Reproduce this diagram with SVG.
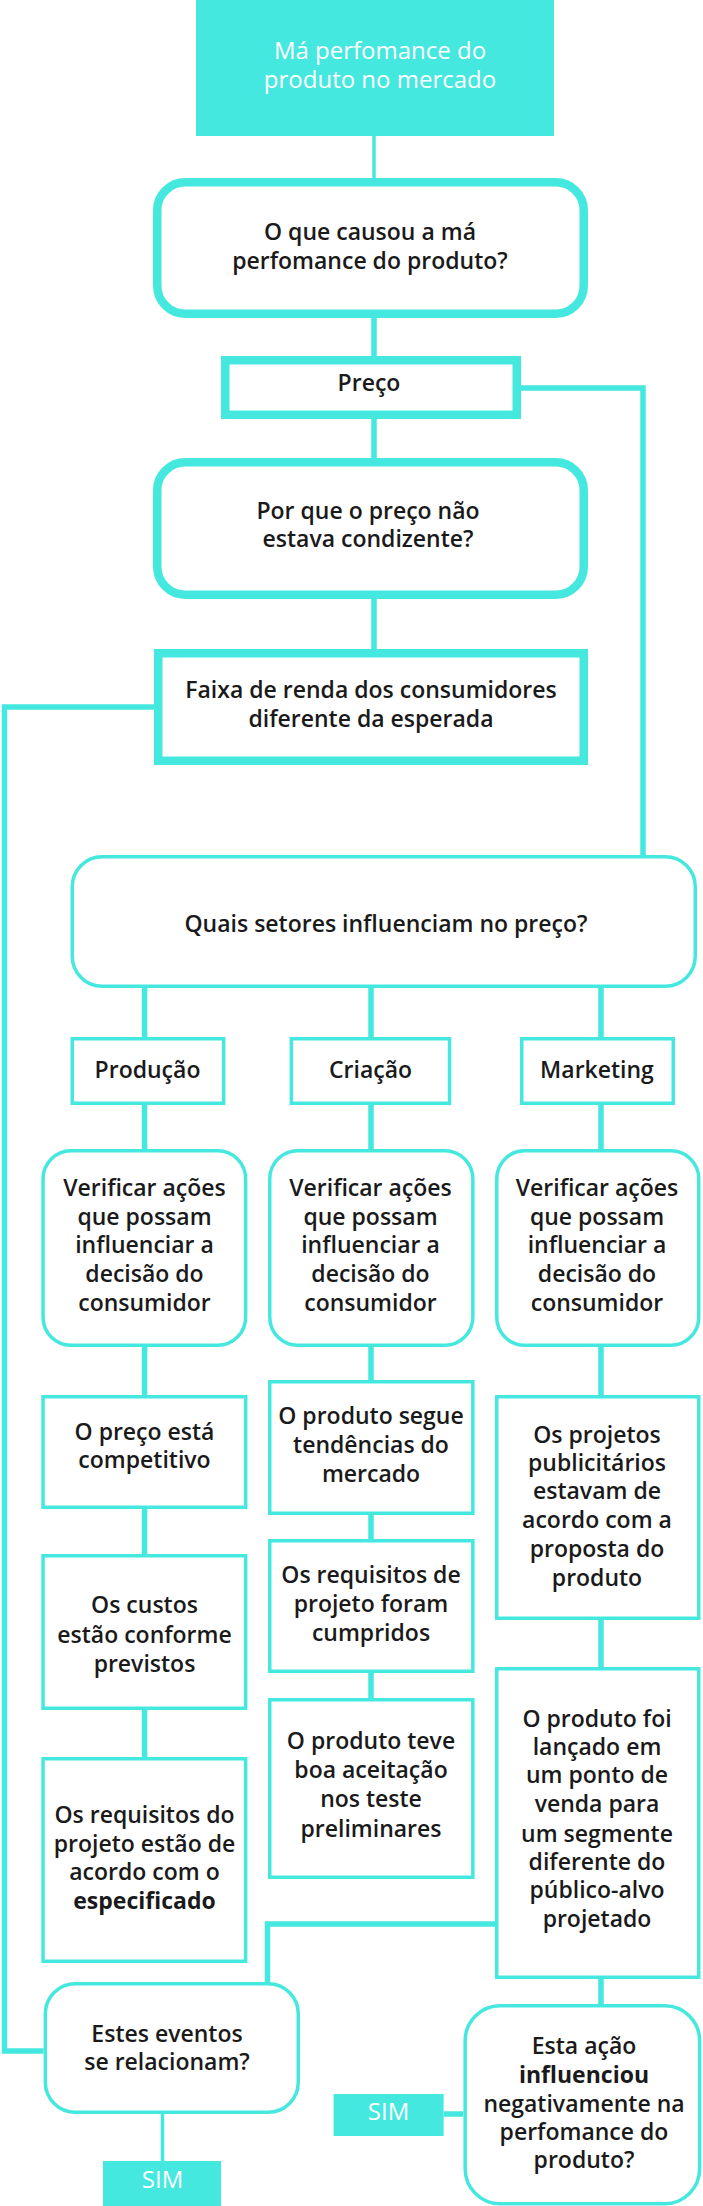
<svg xmlns="http://www.w3.org/2000/svg" width="703" height="2206" viewBox="0 0 703 2206">
<style>
.thick{fill:#fff;stroke:#45E8DF;stroke-width:8.5}
.thin{fill:#fff;stroke:#45E8DF;stroke-width:3.5}
.solid{fill:#45E8DF}
.conn{fill:none;stroke:#45E8DF;stroke-width:5.5}
.connthin{fill:none;stroke:#45E8DF;stroke-width:3.5}
text{font-family:"Open Sans","Liberation Sans",sans-serif;font-size:23px;font-weight:600;fill:#1a1a1a;text-anchor:middle}
text.w{fill:#fff;font-weight:400;font-size:24px}
.b{font-weight:700}
</style>
<rect width="703" height="2206" fill="#fff"/>
<g id="connectors">
<path class="connthin" d="M374 136V178"/>
<path class="conn" d="M374 318V356"/>
<path class="conn" d="M374 419V458"/>
<path class="conn" d="M374 599V649"/>
<path class="conn" d="M521 388H643V856"/>
<path class="conn" d="M154 707H4.5V2051H43.6"/>
<path class="conn" d="M144.6 988V1037M371 988V1037M601 988V1037"/>
<path class="conn" d="M144.6 1105V1149M371 1105V1149M601 1105V1149"/>
<path class="conn" d="M144.6 1347V1395M144.6 1509V1554M144.6 1710V1757"/>
<path class="conn" d="M371 1347V1380M371 1515V1539M371 1673V1698"/>
<path class="conn" d="M601 1347V1395M601 1620V1667M601 1979V2004"/>
<path class="conn" d="M495 1924H267.5V1982"/>
<path class="connthin" d="M162.5 2114V2161"/>
<path class="conn" d="M443.6 2114H463.4"/>
</g>
<g id="n-top">
<rect class="solid" x="196" y="0" width="358" height="136"/>
<text class="w" x="380" y="59">Má perfomance do</text>
<text class="w" x="380" y="88">produto no mercado</text>
</g>
<g id="n-causa">
<rect class="thick" x="157.25" y="182.25" width="426.5" height="131.5" rx="28"/>
<text x="370" y="240">O que causou a má</text>
<text x="370" y="269">perfomance do produto?</text>
</g>
<g id="n-preco">
<rect class="thick" x="225.25" y="360.25" width="291.5" height="54.5"/>
<text x="369" y="391">Preço</text>
</g>
<g id="n-porque">
<rect class="thick" x="157.25" y="462.25" width="426.5" height="132.5" rx="28"/>
<text x="368" y="519">Por que o preço não</text>
<text x="368" y="547">estava condizente?</text>
</g>
<g id="n-faixa">
<rect class="thick" x="158.25" y="653.25" width="425.5" height="107.5"/>
<text x="371" y="698">Faixa de renda dos consumidores</text>
<text x="371" y="727">diferente da esperada</text>
</g>
<g id="n-quais">
<rect class="thin" x="72.25" y="856.75" width="623" height="129.5" rx="30"/>
<text x="386" y="932">Quais setores influenciam no preço?</text>
</g>
<g id="n-producao">
<rect class="thin" x="72.25" y="1038.75" width="151.4" height="64.5"/>
<text x="147.5" y="1078">Produção</text>
</g>
<g id="n-criacao">
<rect class="thin" x="291.35" y="1038.75" width="158.2" height="64.5"/>
<text x="370.5" y="1078">Criação</text>
</g>
<g id="n-marketing">
<rect class="thin" x="521.75" y="1038.75" width="151.5" height="64.5"/>
<text x="597" y="1078">Marketing</text>
</g>
<g id="n-verif1">
<rect class="thin" x="43.05" y="1150.75" width="202.6" height="194.5" rx="28"/>
<text x="144.5" y="1196">Verificar ações</text>
<text x="144.5" y="1225">que possam</text>
<text x="144.5" y="1253">influenciar a</text>
<text x="144.5" y="1282">decisão do</text>
<text x="144.5" y="1311">consumidor</text>
</g>
<g id="n-verif2">
<rect class="thin" x="269.75" y="1150.75" width="203.1" height="194.5" rx="28"/>
<text x="370.5" y="1196">Verificar ações</text>
<text x="370.5" y="1225">que possam</text>
<text x="370.5" y="1253">influenciar a</text>
<text x="370.5" y="1282">decisão do</text>
<text x="370.5" y="1311">consumidor</text>
</g>
<g id="n-verif3">
<rect class="thin" x="496.75" y="1150.75" width="202" height="194.5" rx="28"/>
<text x="597" y="1196">Verificar ações</text>
<text x="597" y="1225">que possam</text>
<text x="597" y="1253">influenciar a</text>
<text x="597" y="1282">decisão do</text>
<text x="597" y="1311">consumidor</text>
</g>
<g id="n-p1">
<rect class="thin" x="43.05" y="1396.75" width="202.6" height="110.5"/>
<text x="144.5" y="1440">O preço está</text>
<text x="144.5" y="1468">competitivo</text>
</g>
<g id="n-p2">
<rect class="thin" x="43.05" y="1555.75" width="202.6" height="152.5"/>
<text x="144.5" y="1613">Os custos</text>
<text x="144.5" y="1643">estão conforme</text>
<text x="144.5" y="1672">previstos</text>
</g>
<g id="n-p3">
<rect class="thin" x="43.05" y="1758.75" width="202.6" height="202.5"/>
<text x="144.5" y="1823">Os requisitos do</text>
<text x="144.5" y="1852">projeto estão de</text>
<text x="144.5" y="1880">acordo com o</text>
<text x="144.5" y="1909" class="b">especificado</text>
</g>
<g id="n-c1">
<rect class="thin" x="269.75" y="1381.75" width="203.1" height="131.5"/>
<text x="371" y="1424">O produto segue</text>
<text x="371" y="1453">tendências do</text>
<text x="371" y="1482">mercado</text>
</g>
<g id="n-c2">
<rect class="thin" x="269.75" y="1540.75" width="203.1" height="130.5"/>
<text x="371" y="1583">Os requisitos de</text>
<text x="371" y="1612">projeto foram</text>
<text x="371" y="1641">cumpridos</text>
</g>
<g id="n-c3">
<rect class="thin" x="269.75" y="1699.75" width="203.1" height="177.5"/>
<text x="371" y="1749">O produto teve</text>
<text x="371" y="1778">boa aceitação</text>
<text x="371" y="1807">nos teste</text>
<text x="371" y="1837">preliminares</text>
</g>
<g id="n-m1">
<rect class="thin" x="496.75" y="1396.75" width="202" height="221.5"/>
<text x="597" y="1443">Os projetos</text>
<text x="597" y="1471">publicitários</text>
<text x="597" y="1499">estavam de</text>
<text x="597" y="1528">acordo com a</text>
<text x="597" y="1557">proposta do</text>
<text x="597" y="1586">produto</text>
</g>
<g id="n-m2">
<rect class="thin" x="496.75" y="1668.75" width="202" height="308.5"/>
<text x="597" y="1727">O produto foi</text>
<text x="597" y="1755">lançado em</text>
<text x="597" y="1783">um ponto de</text>
<text x="597" y="1812">venda para</text>
<text x="597" y="1842">um segmente</text>
<text x="597" y="1870">diferente do</text>
<text x="597" y="1898">público-alvo</text>
<text x="597" y="1927">projetado</text>
</g>
<g id="n-estes">
<rect class="thin" x="45.35" y="1983.75" width="252.9" height="128.5" rx="30"/>
<text x="167" y="2042">Estes eventos</text>
<text x="167" y="2070">se relacionam?</text>
</g>
<g id="n-sim1">
<rect class="solid" x="103" y="2161" width="118" height="45"/>
<text class="w" x="162.5" y="2188">SIM</text>
</g>
<g id="n-esta">
<rect class="thin" x="465.15" y="2005.75" width="234.5" height="198" rx="35"/>
<text x="584" y="2054">Esta ação</text>
<text x="584" y="2083" class="b">influenciou</text>
<text x="584" y="2112">negativamente na</text>
<text x="584" y="2140">perfomance do</text>
<text x="584" y="2168">produto?</text>
</g>
<g id="n-sim2">
<rect class="solid" x="333.6" y="2094" width="110" height="42"/>
<text class="w" x="388.6" y="2120">SIM</text>
</g>
</svg>
